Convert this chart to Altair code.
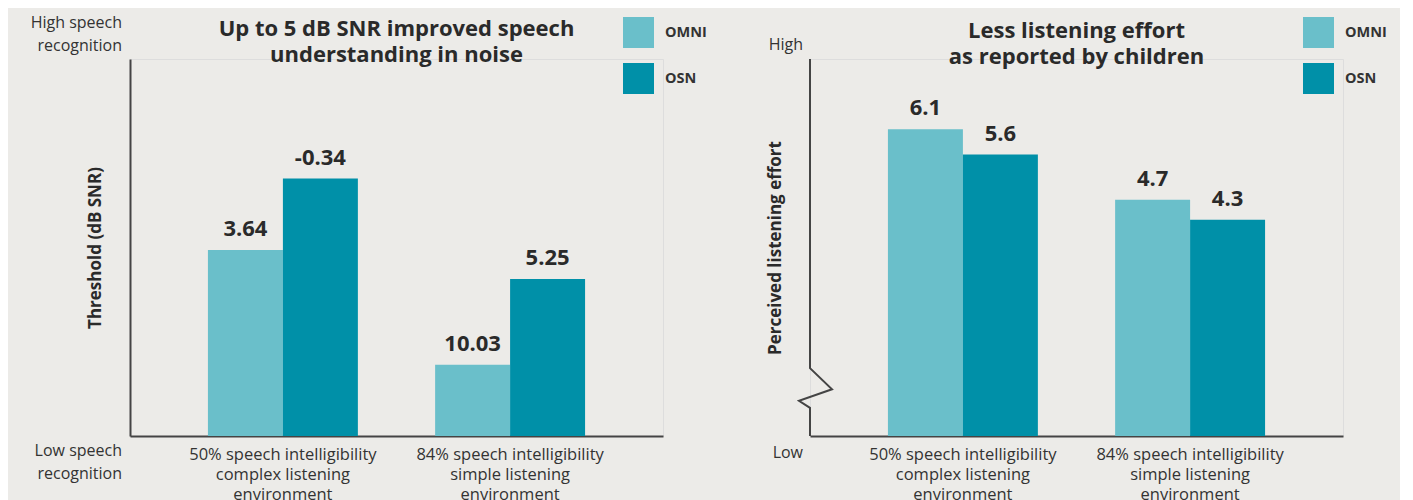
import altair as alt
import pandas as pd

FONT = "Open Sans"
BG = "#ECEBE8"
INK = "#2A2A2A"
AXIS_INK = "#444444"

# ---- data ----
groups = [
    "50% speech intelligibility|complex listening|environment",
    "84% speech intelligibility|simple listening|environment",
]
conditions = ["OMNI", "OSN"]
colors = ["#6ABFCA", "#0090A8"]

threshold_omni = [3.64, 10.03]
threshold_osn = [-0.34, 5.25]
threshold_labels_omni = ["3.64", "10.03"]
threshold_labels_osn = ["-0.34", "5.25"]

effort_omni = [6.1, 4.7]
effort_osn = [5.6, 4.3]
effort_labels_omni = ["6.1", "4.7"]
effort_labels_osn = ["5.6", "4.3"]

# scale settings
THRESH_DOMAIN = [-7, 14]   # reversed: lower threshold = taller bar
THRESH_FLOOR = 14
EFFORT_DOMAIN = [0, 7.5]
# decorative axis-break shape (pixel x offset, value y)
BREAK_PX = [0, 0, 22, -11, 0, 0]
BREAK_VAL = [7.5, 1.35, 0.93, 0.70, 0.56, 0]

W, H = 533, 377


def frame(omni, osn, lab_omni, lab_osn):
    return pd.DataFrame({
        "group": groups * 2,
        "cond": ["OMNI"] * len(groups) + ["OSN"] * len(groups),
        "value": list(omni) + list(osn),
        "label": list(lab_omni) + list(lab_osn),
    })


left_df = frame(threshold_omni, threshold_osn, threshold_labels_omni, threshold_labels_osn)
left_df["floor"] = THRESH_FLOOR
right_df = frame(effort_omni, effort_osn, effort_labels_omni, effort_labels_osn)
break_df = pd.DataFrame({"px": BREAK_PX, "value": BREAK_VAL, "i": list(range(len(BREAK_PX)))})

x_enc = alt.X(
    "group:N", sort=groups,
    scale=alt.Scale(paddingInner=0.34, paddingOuter=0.343),
    axis=alt.Axis(
        title=None, labelExpr="split(datum.label, '|')", labelAngle=0,
        labelFontSize=16.5, labelColor="#333333", labelPadding=10, labelLineHeight=20,
        labelLimit=400, ticks=False, domainColor=AXIS_INK, domainWidth=2, labelFont=FONT,
    ),
)
xoff_enc = alt.XOffset("cond:N", sort=conditions, scale=alt.Scale(paddingInner=0, paddingOuter=0))


def color_enc():
    return alt.Color(
        "cond:N", sort=conditions,
        scale=alt.Scale(domain=conditions, range=colors),
        legend=alt.Legend(
            title=None, orient="none", legendX=493, legendY=-42,
            symbolType="square", symbolSize=961, symbolStrokeWidth=0, symbolOpacity=1,
            labelFontSize=14.5, labelFontWeight="bold", labelColor="#333333", labelFont=FONT,
            rowPadding=15, labelOffset=11, padding=0,
        ),
    )


def y_axis(title, domain):
    return alt.Axis(
        title=title, labels=False, ticks=False, grid=False, domain=domain,
        domainColor=AXIS_INK, domainWidth=2,
        titleFontSize=17, titleFontWeight="bold", titleColor=INK, titleFont=FONT,
        titlePadding=26,
    )


def corner_text(lines, y, x=-7):
    return alt.Chart(alt.Data(values=[{}])).mark_text(
        align="right", baseline="middle", fontSize=16, color="#333333", font=FONT, lineHeight=23,
    ).encode(x=alt.value(x), y=alt.value(y), text=alt.value(lines))


def title(lines):
    return alt.Title(lines, fontSize=22, fontWeight="bold", color=INK, font=FONT, anchor="middle",
                     frame="group", lineHeight=26, offset=-52)


def value_text(df, y):
    return alt.Chart(df).mark_text(
        baseline="alphabetic", dy=-14, fontSize=22, fontWeight="bold", color=INK, font=FONT,
    ).encode(x=x_enc, xOffset=xoff_enc, y=y, text="label:N")


# ---- left panel ----
ly = alt.Y("value:Q", scale=alt.Scale(domain=THRESH_DOMAIN, reverse=True, nice=False, zero=False),
           axis=y_axis("Threshold (dB SNR)", True))
left_bars = alt.Chart(left_df).mark_bar().encode(
    x=x_enc, xOffset=xoff_enc, y=ly, y2="floor:Q", color=color_enc(),
)

left = alt.layer(
    left_bars, value_text(left_df, ly),
    corner_text(["High speech", "recognition"], -36, x=-8),
    corner_text(["Low speech", "recognition"], H + 15, x=-8),
).properties(
    width=W, height=H,
    title=title(["Up to 5 dB SNR improved speech", "understanding in noise"]),
)

# ---- right panel ----
ry = alt.Y("value:Q", scale=alt.Scale(domain=EFFORT_DOMAIN, nice=False),
           axis=y_axis("Perceived listening effort", False))
right_bars = alt.Chart(right_df).mark_bar().encode(
    x=x_enc, xOffset=xoff_enc, y=ry, color=color_enc(),
)
right_core = alt.layer(right_bars, value_text(right_df, ry))
axis_break = alt.Chart(break_df).mark_line(color=AXIS_INK, strokeWidth=2, strokeJoin="miter").encode(
    x=alt.X("px:Q", scale=None, axis=None), y=ry, order="i:Q",
)

right = alt.layer(
    right_core, axis_break,
    corner_text(["High"], -14),
    corner_text(["Low"], H + 17),
).resolve_scale(x="independent").properties(
    width=W, height=H,
    title=title(["Less listening effort", "as reported by children"]),
)

chart = alt.hconcat(left, right, spacing=147, bounds="flush").resolve_legend(
    color="independent"
).properties(
    background=BG, padding={"left": 22, "top": 6, "right": 12, "bottom": 5},
).configure_view(stroke=None).configure(font=FONT)

chart.save("out.html", embed_options={"renderer": "svg", "actions": False})
